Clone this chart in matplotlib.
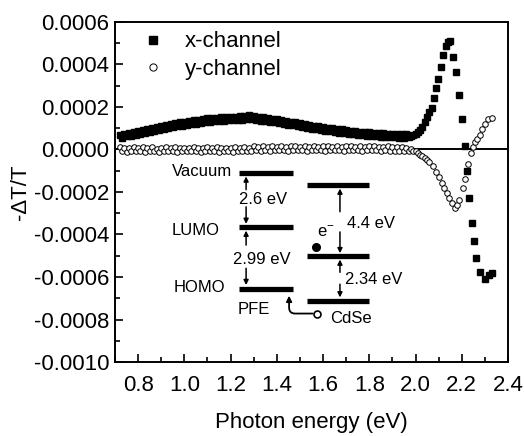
import numpy as np
import matplotlib
matplotlib.use("Agg")
import matplotlib.pyplot as plt
from matplotlib.ticker import MultipleLocator, FuncFormatter

plt.rcParams['font.family'] = ['Liberation Sans', 'DejaVu Sans']
plt.rcParams['axes.unicode_minus'] = False
plt.rcParams['mathtext.fontset'] = 'custom'
plt.rcParams['mathtext.rm'] = 'Liberation Sans'

# densely sampled low-energy region (both channels), eV
band_energy = [0.72, 0.73, 0.74, 0.75, 0.76, 0.77, 0.78, 0.79, 0.80, 0.81,
               0.82, 0.83, 0.84, 0.85, 0.86, 0.87, 0.88, 0.89, 0.90, 0.91,
               0.92, 0.93, 0.94, 0.95, 0.96, 0.97, 0.98, 0.99, 1.00, 1.01,
               1.02, 1.03, 1.04, 1.05, 1.06, 1.07, 1.08, 1.09, 1.10, 1.11,
               1.12, 1.13, 1.14, 1.15, 1.16, 1.17, 1.18, 1.19, 1.20, 1.21,
               1.22, 1.23, 1.24, 1.25, 1.26, 1.27, 1.28, 1.29, 1.30, 1.31,
               1.32, 1.33, 1.34, 1.35, 1.36, 1.37, 1.38, 1.39, 1.40, 1.41,
               1.42, 1.43, 1.44, 1.45, 1.46, 1.47, 1.48, 1.49, 1.50, 1.51,
               1.52, 1.53, 1.54, 1.55, 1.56, 1.57, 1.58, 1.59, 1.60, 1.61,
               1.62, 1.63, 1.64, 1.65, 1.66, 1.67, 1.68, 1.69, 1.70, 1.71,
               1.72, 1.73, 1.74, 1.75, 1.76, 1.77, 1.78, 1.79, 1.80, 1.81,
               1.82, 1.83, 1.84, 1.85, 1.86, 1.87, 1.88, 1.89, 1.90, 1.91,
               1.92, 1.93, 1.94, 1.95, 1.96, 1.97]

# x-channel (filled squares), values in units of 1e-4
x_band = [0.66, 0.56, 0.72, 0.61, 0.77, 0.65, 0.82, 0.70, 0.88, 0.75,
          0.93, 0.79, 0.98, 0.84, 1.02, 0.88, 1.06, 0.93, 1.11, 0.97,
          1.15, 1.01, 1.19, 1.05, 1.23, 1.09, 1.27, 1.12, 1.30, 1.16,
          1.33, 1.19, 1.37, 1.22, 1.40, 1.26, 1.43, 1.28, 1.46, 1.31,
          1.48, 1.33, 1.50, 1.35, 1.52, 1.36, 1.53, 1.38, 1.54, 1.39,
          1.55, 1.40, 1.56, 1.40, 1.57, 1.41, 1.64, 1.41, 1.56, 1.39,
          1.54, 1.36, 1.51, 1.33, 1.48, 1.30, 1.45, 1.27, 1.41, 1.23,
          1.38, 1.20, 1.34, 1.16, 1.30, 1.13, 1.27, 1.09, 1.23, 1.05,
          1.19, 1.02, 1.16, 0.98, 1.12, 0.95, 1.09, 0.92, 1.06, 0.89,
          1.03, 0.85, 0.99, 0.82, 0.97, 0.79, 0.94, 0.76, 0.91, 0.74,
          0.89, 0.72, 0.86, 0.69, 0.84, 0.67, 0.82, 0.65, 0.80, 0.63,
          0.78, 0.62, 0.77, 0.60, 0.76, 0.59, 0.75, 0.58, 0.74, 0.57,
          0.73, 0.56, 0.72, 0.56, 0.72, 0.57]
x_peak_energy = [1.98, 1.99, 2.00, 2.01, 2.02, 2.03, 2.04, 2.05, 2.06, 2.07,
                 2.08, 2.088, 2.097, 2.108, 2.118, 2.13, 2.14, 2.15, 2.163, 2.177,
                 2.19, 2.20, 2.213, 2.222, 2.232, 2.243, 2.253, 2.263, 2.278, 2.30,
                 2.318, 2.33]
x_peak = [0.65, 0.68, 0.72, 0.80, 0.90, 1.05, 1.28, 1.52, 1.75, 1.95,
          2.40, 2.90, 3.30, 3.90, 4.45, 4.85, 5.05, 5.10, 4.35, 3.65,
          2.55, 1.42, 0.15, -1.00, -2.30, -3.45, -4.30, -5.10, -5.75, -6.10,
          -5.90, -5.80]

# y-channel (open circles), values in units of 1e-4
y_band = [0.10, -0.08, 0.06, -0.10, 0.09, -0.05, 0.11, -0.09, 0.05, -0.07,
          0.10, -0.10, 0.07, -0.06, 0.12, -0.08, 0.04, -0.11, 0.09, -0.05,
          0.10, -0.09, 0.06, -0.07, 0.11, -0.10, 0.05, -0.06, 0.09, -0.09,
          0.07, -0.05, 0.12, -0.08, 0.06, -0.10, 0.09, -0.06, 0.10, -0.09,
          0.05, -0.07, 0.11, -0.10, 0.07, -0.05, 0.09, -0.08, 0.06, -0.10,
          0.10, -0.06, 0.08, -0.09, 0.12, -0.05, 0.07, -0.08, 0.14, -0.04,
          0.12, -0.06, 0.15, -0.03, 0.13, -0.05, 0.16, -0.02, 0.12, -0.04,
          0.15, -0.03, 0.13, -0.05, 0.16, -0.02, 0.14, -0.04, 0.12, -0.03,
          0.15, -0.05, 0.13, -0.02, 0.16, -0.04, 0.12, -0.03, 0.14, -0.05,
          0.15, -0.02, 0.13, -0.04, 0.16, -0.03, 0.12, -0.05, 0.14, -0.02,
          0.15, -0.04, 0.13, -0.03, 0.16, -0.05, 0.12, -0.02, 0.14, -0.04,
          0.15, -0.03, 0.13, -0.05, 0.12, -0.04, 0.14, -0.06, 0.11, -0.05,
          0.12, -0.07, 0.10, -0.06, 0.08, -0.08]
y_dip_energy = [1.98, 1.99, 2.00, 2.01, 2.02, 2.03, 2.04, 2.05, 2.06, 2.075,
                2.09, 2.10, 2.114, 2.125, 2.135, 2.146, 2.157, 2.17, 2.18, 2.19,
                2.205, 2.215, 2.227, 2.24, 2.25, 2.257, 2.266, 2.277, 2.287, 2.30,
                2.313, 2.33]
y_dip = [0.02, -0.05, -0.08, -0.15, -0.24, -0.30, -0.40, -0.48, -0.57, -0.80,
         -1.04, -1.30, -1.56, -1.80, -2.04, -2.30, -2.50, -2.75, -2.60, -2.37,
         -1.80, -1.40, -0.70, -0.15, 0.10, 0.33, 0.47, 0.70, 0.95, 1.18,
         1.42, 1.50]

# energy-level diagram (inset), levels in units of 1e-4
pfe_levels = [-1.09, -3.65, -6.58]      # vacuum, LUMO, HOMO
cdse_levels = [-1.66, -5.02, -7.15]     # vacuum, LUMO, HOMO

scale = 1e-4
x_energy = band_energy + x_peak_energy
x_signal = np.array(x_band + x_peak) * scale
y_energy = band_energy + y_dip_energy
y_signal = np.array(y_band + y_dip) * scale

fig = plt.figure(figsize=(5.24, 4.36), dpi=100)
ax = fig.add_axes([0.2195, 0.1697, 0.75, 0.78])

ax.axhline(0, color='k', lw=1.4, zorder=1)
ax.plot(x_energy, x_signal, 's', color='k', ms=4.5, mec='k',
        label='x-channel', zorder=3)
ax.plot(y_energy, y_signal, 'o', color='k', ms=4.0, mfc='white', mec='k',
        mew=0.7, label='y-channel', zorder=2)

# ---- inset energy diagram ----
bar_lw = 3.8
ax.hlines(np.array(pfe_levels) * scale, 1.236, 1.468, color='k', lw=bar_lw)
ax.hlines(np.array(cdse_levels) * scale, 1.532, 1.800, color='k', lw=bar_lw)

arr = dict(arrowstyle='-|>', color='k', lw=1.1, mutation_scale=7,
           shrinkA=0, shrinkB=0)
xa, xb = 1.267, 1.673
for tail, tip in [(-1.89, -1.27), (-2.70, -3.50), (-4.50, -3.82), (-5.59, -6.38)]:
    ax.annotate('', xy=(xa, tip * scale), xytext=(xa, tail * scale), arrowprops=arr)
for tail, tip in [(-2.93, -1.84), (-3.88, -4.88), (-5.78, -5.18), (-6.34, -6.96)]:
    ax.annotate('', xy=(xb, tip * scale), xytext=(xb, tail * scale), arrowprops=arr)

fs_in = 12
ax.text(1.206, -1.06e-4, 'Vacuum', fontsize=fs_in, ha='right', va='center')
ax.text(1.236, -2.37e-4, '2.6 eV', fontsize=fs_in, ha='left', va='center')
ax.text(1.154, -3.79e-4, 'LUMO', fontsize=fs_in, ha='right', va='center')
ax.text(1.210, -5.16e-4, '2.99 eV', fontsize=fs_in, ha='left', va='center')
ax.text(1.176, -6.49e-4, 'HOMO', fontsize=fs_in, ha='right', va='center')
ax.text(1.232, -7.53e-4, 'PFE', fontsize=fs_in, ha='left', va='center')
ax.text(1.703, -3.50e-4, '4.4 eV', fontsize=fs_in, ha='left', va='center')
ax.text(1.695, -6.10e-4, '2.34 eV', fontsize=fs_in, ha='left', va='center')
ax.text(1.630, -7.95e-4, 'CdSe', fontsize=fs_in, ha='left', va='center')
ax.text(1.575, -3.88e-4, 'e$^{-}$', fontsize=fs_in, ha='left', va='center')
ax.plot([1.569], [-4.59e-4], 'o', color='k', ms=5.5)
ax.plot([1.574], [-7.72e-4], 'o', mfc='white', mec='k', mew=1.2, ms=5)
ax.annotate('', xy=(1.453, -6.88e-4), xytext=(1.555, -7.72e-4),
            arrowprops=dict(arrowstyle='-|>', color='k', lw=1.3, mutation_scale=8,
                            shrinkA=0, shrinkB=0,
                            connectionstyle='angle,angleA=180,angleB=90,rad=6'))

# ---- axes ----
ax.set_xlim(0.7, 2.4)
ax.set_ylim(-0.001, 0.0006)
ax.xaxis.set_major_locator(MultipleLocator(0.2))
ax.xaxis.set_minor_locator(MultipleLocator(0.1))
ax.yaxis.set_major_locator(MultipleLocator(0.0002))
ax.yaxis.set_minor_locator(MultipleLocator(0.0001))
ax.xaxis.set_major_formatter(FuncFormatter(lambda v, p: '%.1f' % v))
ax.yaxis.set_major_formatter(FuncFormatter(lambda v, p: '%.4f' % (0 if abs(v) < 1e-9 else v)))
ax.tick_params(which='both', direction='in', top=False, right=False,
               labelsize=16, width=1.2)
ax.tick_params(axis='x', which='major', length=6, pad=9)
ax.tick_params(axis='y', which='major', length=6, pad=4)
ax.tick_params(which='minor', length=3.5)
for s in ax.spines.values():
    s.set_linewidth(1.4)

ax.set_xlabel('Photon energy (eV)', fontsize=16, labelpad=12)
ax.set_ylabel('-ΔT/T', fontsize=16, labelpad=2)

ax.legend(loc='upper left', bbox_to_anchor=(0.068, 0.972), frameon=False,
          fontsize=16, borderaxespad=0, borderpad=0, handlelength=1.0,
          handletextpad=0.94, labelspacing=0.3, numpoints=1, markerscale=1.3)

fig.savefig('out.png', dpi=100)
